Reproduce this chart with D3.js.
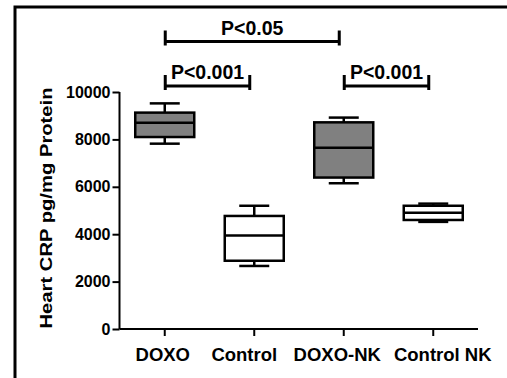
<!DOCTYPE html>
<html>
<head>
<meta charset="utf-8">
<script src="https://cdn.jsdelivr.net/npm/d3@7"></script>
<style>
  body { margin: 0; background: #fff; }
  svg text { font-family: Arial, "Liberation Sans", sans-serif; font-weight: bold; fill: #000; }
</style>
</head>
<body>
<svg id="chart" width="507" height="378"></svg>
<script>
// data
var groups  = ["DOXO", "Control", "DOXO-NK", "Control NK"];
var fills   = ["#808080", "#ffffff", "#808080", "#ffffff"];
var mins    = [7820, 2660, 6150, 4520];
var q1s     = [8100, 2880, 6390, 4600];
var medians = [8700, 3950, 7650, 4900];
var q3s     = [9130, 4770, 8720, 5200];
var maxs    = [9520, 5200, 8920, 5290];
var yTicks  = [0, 2000, 4000, 6000, 8000, 10000];
// significance brackets
var sigFrom  = ["DOXO", "DOXO-NK", "DOXO"];
var sigTo    = ["Control", "Control NK", "DOXO-NK"];
var sigLabel = ["P<0.001", "P<0.001", "P<0.05"];
var sigLevel = [0, 0, 1];

var svg = d3.select("#chart");

// outer frame (only top and left edges show)
svg.append("path")
  .attr("d", "M15,378V7H507")
  .attr("fill", "none").attr("stroke", "#000").attr("stroke-width", 3);

var x = d3.scaleBand().domain(groups).range([120, 478]).padding(0);
var y = d3.scaleLinear().domain([0, 10000]).range([329, 92]);
var cx = function(g) { return x(g) + x.bandwidth() / 2; };

// y axis
var yAxis = svg.append("g")
  .attr("transform", "translate(119.5,0)")
  .call(d3.axisLeft(y).tickValues(yTicks).tickSize(7).tickPadding(2).tickFormat(d3.format("d")));
yAxis.select(".domain").attr("d", "M0," + y(10000) + "V" + y(0));
yAxis.selectAll("line, path").attr("stroke", "#000").attr("stroke-width", 2);
yAxis.selectAll("text").attr("font-size", 16).attr("font-family", null);

// x axis
var xAxis = svg.append("g")
  .attr("transform", "translate(0," + y(0) + ")")
  .call(d3.axisBottom(x).tickSize(7).tickPadding(12));
xAxis.select(".domain").attr("d", "M119.5,0H478");
xAxis.selectAll("line, path").attr("stroke", "#000").attr("stroke-width", 2);
// labels sit a little off their ticks in the original
var nudge = [-2, -10, -6.5, 9.5];
xAxis.selectAll("text")
  .attr("font-size", 18.5).attr("font-family", null)
  .attr("dx", function(d, i) { return nudge[i]; });

// y title
svg.append("text")
  .attr("transform", "translate(52,208) rotate(-90)")
  .attr("text-anchor", "middle")
  .attr("font-size", 17)
  .attr("textLength", 241).attr("lengthAdjust", "spacingAndGlyphs")
  .text("Heart CRP pg/mg Protein");

// boxes
var boxW = 59, capW = 30;
var box = svg.selectAll(".box").data(groups).enter().append("g")
  .attr("class", "box")
  .attr("transform", function(d) { return "translate(" + cx(d) + ",0)"; });

box.append("line")
  .attr("x1", 0).attr("x2", 0)
  .attr("y1", function(d, i) { return y(maxs[i]); })
  .attr("y2", function(d, i) { return y(mins[i]); })
  .attr("stroke", "#000").attr("stroke-width", 2.5);
box.append("rect")
  .attr("x", -boxW / 2).attr("width", boxW)
  .attr("y", function(d, i) { return y(q3s[i]); })
  .attr("height", function(d, i) { return y(q1s[i]) - y(q3s[i]); })
  .attr("fill", function(d, i) { return fills[i]; })
  .attr("stroke", "#000").attr("stroke-width", 2.5);
box.append("line")
  .attr("x1", -boxW / 2).attr("x2", boxW / 2)
  .attr("y1", function(d, i) { return y(medians[i]); })
  .attr("y2", function(d, i) { return y(medians[i]); })
  .attr("stroke", "#000").attr("stroke-width", 2.5);
box.selectAll(".cap")
  .data(function(d, i) { return [maxs[i], mins[i]]; })
  .enter().append("line")
  .attr("x1", -capW / 2).attr("x2", capW / 2)
  .attr("y1", function(v) { return y(v); })
  .attr("y2", function(v) { return y(v); })
  .attr("stroke", "#000").attr("stroke-width", 2.5);

// significance brackets
var levelY = [86, 41.5];
sigLabel.forEach(function(lab, i) {
  var x1 = cx(sigFrom[i]) + 0.5, x2 = cx(sigTo[i]) - 4.5, yy = levelY[sigLevel[i]];
  var g = svg.append("g");
  g.append("path")
    .attr("d", "M" + x1 + "," + yy + "H" + x2 +
               "M" + x1 + "," + (yy - 11) + "V" + (yy + 4) +
               "M" + x2 + "," + (yy - 11) + "V" + (yy + 4))
    .attr("fill", "none").attr("stroke", "#000").attr("stroke-width", 3);
  g.append("text")
    .attr("x", (x1 + x2) / 2).attr("y", yy - 7)
    .attr("text-anchor", "middle")
    .attr("font-size", 19.5)
    .text(lab);
});
</script>
</body>
</html>
